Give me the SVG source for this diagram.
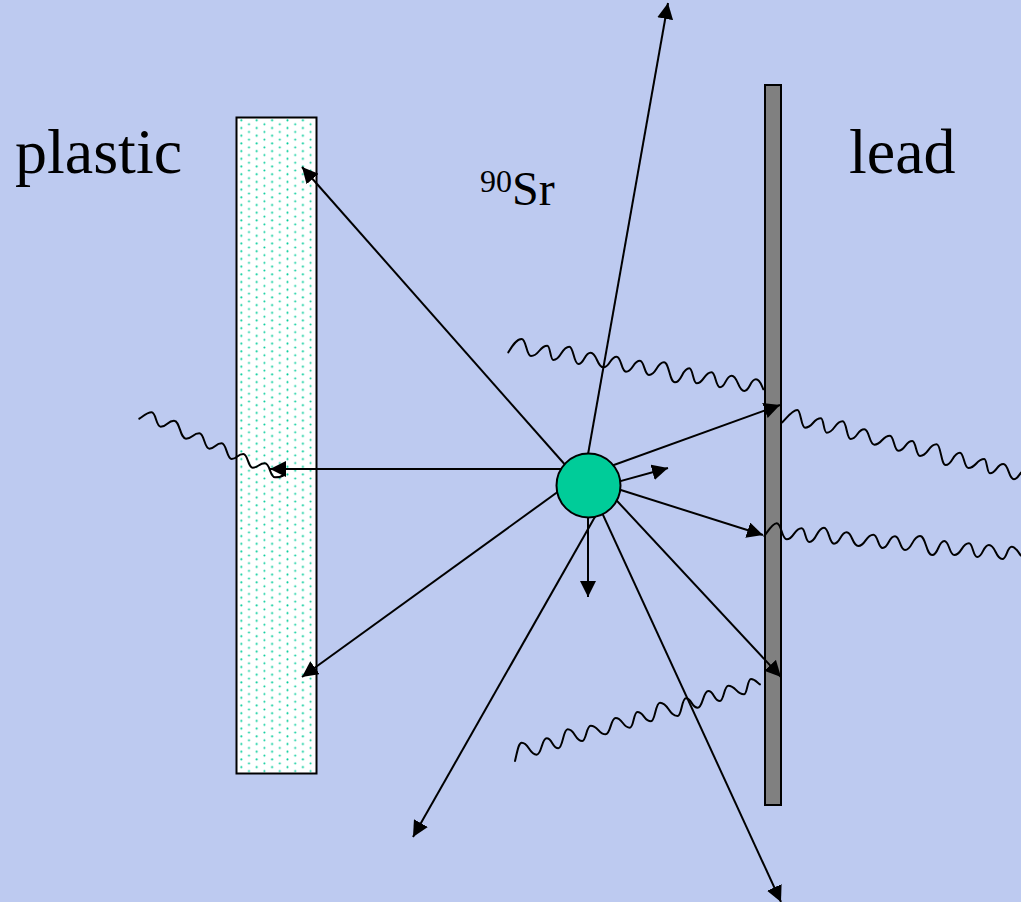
<svg xmlns="http://www.w3.org/2000/svg" width="1021" height="902" viewBox="0 0 1021 902">
<style>
.t{font-family:"Liberation Serif","Times New Roman",serif;fill:#000}
.a{stroke:#000;stroke-width:2;fill:none;marker-end:url(#ah)}
.w{stroke:#000;stroke-width:2;fill:none;vector-effect:non-scaling-stroke;stroke-linecap:round}
.b{stroke:#000;stroke-width:2}
</style>
<defs>
<marker id="ah" markerUnits="userSpaceOnUse" markerWidth="18" markerHeight="16" viewBox="0 0 18 16" refX="16" refY="8" orient="auto"><path d="M0 0L16 8L0 16Z" fill="#000"/></marker>
<pattern id="dots" patternUnits="userSpaceOnUse" x="237" y="118" width="15.4" height="15.4">
<rect width="15.4" height="15.4" fill="#fff"/>
<circle cx="4.3" cy="2.3" r="1" fill="#00CC99"/>
<circle cx="12" cy="6.2" r="1" fill="#00CC99"/>
<circle cx="4.3" cy="10" r="1" fill="#00CC99"/>
<circle cx="12" cy="13.9" r="1" fill="#00CC99"/>
</pattern>
</defs>
<rect width="1021" height="902" fill="#BDCAF0"/>
<g id="plastic"><rect class="b" x="236.500" y="117.500" width="80" height="656" fill="url(#dots)"/><text class="t" x="15" y="173" font-size="64">plastic</text></g>
<g id="lead"><rect class="b" x="765" y="85" width="16" height="720" fill="#808080"/><text class="t" x="849" y="173" font-size="64">lead</text></g>
<g id="label-sr"><text class="t" x="480" y="205" font-size="48"><tspan font-size="32" dy="-13">90</tspan><tspan dy="13">Sr</tspan></text></g>
<g id="connectors">
<path class="a" d="M587 460L668 3"/>
<path class="a" d="M575 476L302 167"/>
<path class="a" d="M575 469L270 469"/>
<path class="a" d="M570 483L302 677"/>
<path class="a" d="M600 508L413 837"/>
<path class="a" d="M598 504L781 902"/>
<path class="a" d="M588 500L588 597"/>
<path class="a" d="M605 488L781 677"/>
<path class="a" d="M605 485L763 535"/>
<path class="a" d="M605 485.400L668 468"/>
<path class="a" d="M600 470L780 405"/>
<path class="w" transform="translate(500 330) scale(.3333)" d="M25 67C38 45 50 27 65 27C79 27 79 78 93 78C118 78 118 47 142 47C151 47 151 90 160 90C184 90 184 50 208 50C221 50 221 102 235 102C253 102 253 68 272 68C291 68 291 112 310 112C330 112 330 80 350 80C364 80 364 125 378 125C399 125 399 92 420 92C433 92 433 135 447 135C470 135 470 97 492 97C508 97 508 157 525 157C546 157 546 115 568 115C579 115 579 160 590 160C612 160 612 127 635 127C647 127 647 172 660 172C677 172 677 137 695 137C714 137 714 183 733 183C750 183 750 148 768 148C780 148 784 165 790 178"/>
<path class="w" transform="translate(130 380) scale(.3333)" d="M28 116C40 108 52 97 65 97C78 97 78 140 92 140C112 140 112 122 132 122C150 122 150 176 168 176C188 176 188 160 208 160C223 160 223 206 238 206C256 206 256 190 275 190C290 190 290 237 305 237C322 237 322 222 340 222C354 222 354 263 368 263C386 263 386 250 405 250C420 250 420 292 435 292C450 292 455 290 465 283"/>
<path class="w" transform="translate(760 400) scale(.3333)" d="M67 67C82 52 97 30 112 30C123 30 123 83 135 83C159 83 159 55 183 55C191 55 191 98 200 98C224 98 224 64 248 64C260 64 260 117 272 117C292 117 292 88 313 88C328 88 328 134 343 134C366 134 366 107 390 107C402 107 402 152 415 152C436 152 436 123 457 123C468 123 468 168 480 168C505 168 505 133 530 133C543 133 543 195 557 195C578 195 578 158 600 158C612 158 612 204 625 204C649 204 649 177 673 177C681 177 681 220 690 220C710 220 710 192 730 192C746 192 746 238 762 238C770 238 776 228 783 218"/>
<path class="w" transform="translate(760 400) scale(.3333)" d="M13 408C25 392 38 370 50 370C65 370 65 418 80 418C102 418 102 385 125 385C136 385 136 426 148 426C170 426 170 383 192 383C207 383 207 431 222 431C241 431 241 397 260 397C277 397 277 438 295 438C317 438 317 404 340 404C354 404 354 444 368 444C386 444 386 409 405 409C420 409 420 450 435 450C457 450 457 408 480 408C498 408 498 465 517 465C535 465 535 423 553 423C568 423 568 465 583 465C605 465 605 430 627 430C639 430 639 471 652 471C669 471 669 435 687 435C707 435 707 477 727 477C741 477 741 440 755 440C768 440 775 458 783 467"/>
<path class="w" transform="translate(505 660) scale(.3333)" d="M30 303C36 280 40 248 50 248C72 248 72 284 95 284C110 284 110 235 125 235C142 235 142 265 160 265C174 265 174 208 188 208C210 208 210 243 232 243C244 243 244 197 257 197C280 197 280 223 302 223C317 223 317 174 332 174C353 174 353 203 375 203C386 203 386 156 397 156C417 156 417 184 438 184C451 184 451 128 465 128C491 128 491 168 518 168C530 168 530 115 543 115C560 115 560 143 578 143C594 143 594 93 610 93C627 93 627 123 645 123C657 123 657 77 670 77C693 77 693 103 717 103C727 103 727 57 738 57C750 57 757 68 765 73"/>
</g>
<g id="source"><circle class="b" cx="588.500" cy="485.500" r="32" fill="#00CC99"/></g>
</svg>
